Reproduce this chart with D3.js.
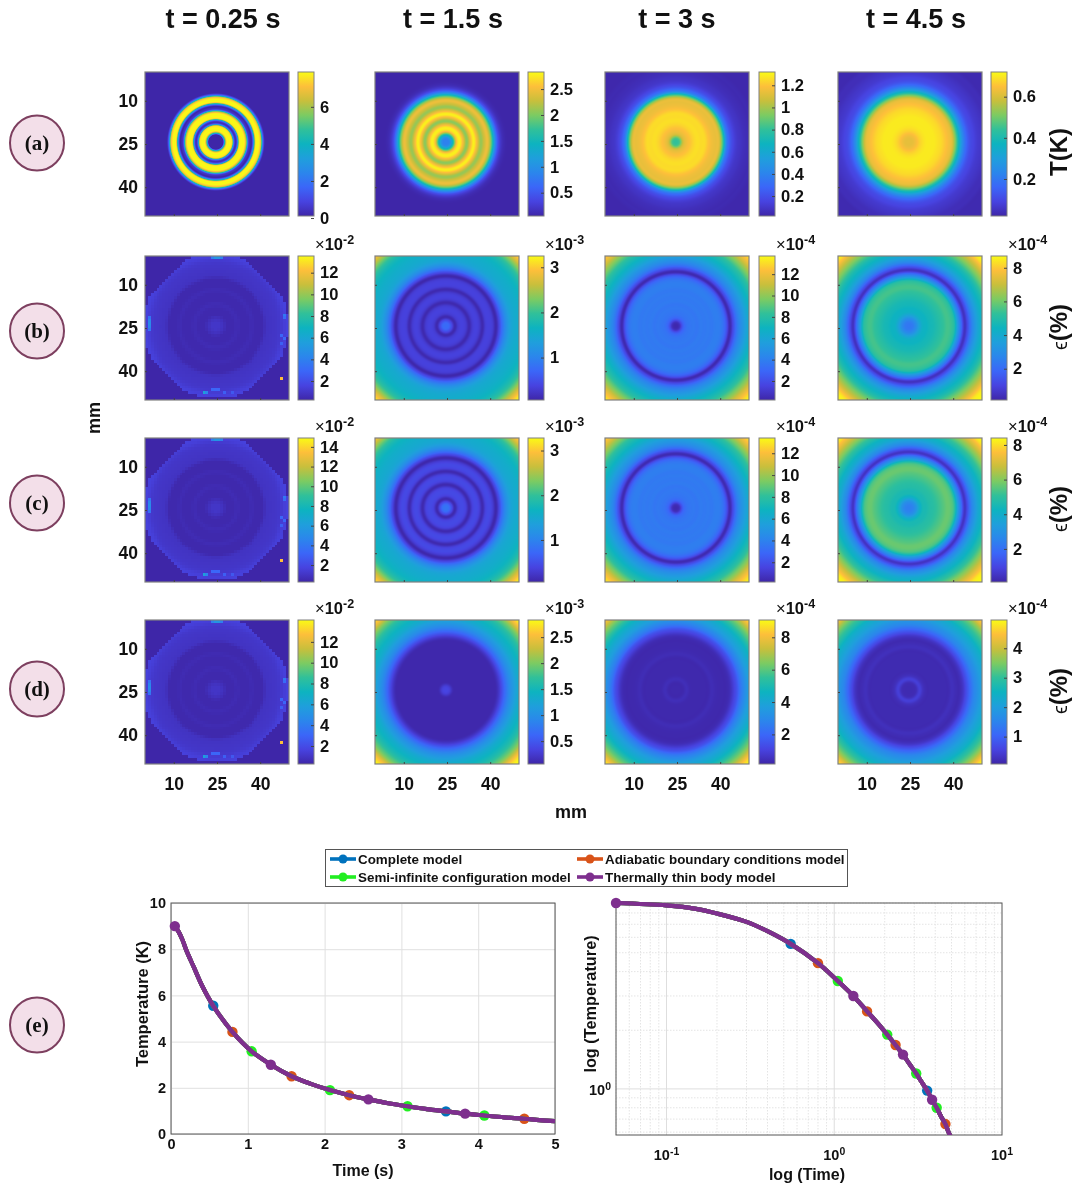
<!DOCTYPE html>
<html><head><meta charset="utf-8">
<script src="https://cdn.jsdelivr.net/npm/d3@7"></script>
<style>
html,body{margin:0;padding:0;background:#fff;}
#wrap{position:relative;width:1074px;height:1187px;overflow:hidden;}
canvas,svg{position:absolute;left:0;top:0;}
text{font-family:"Liberation Sans",Arial,sans-serif;font-weight:700;fill:#111;}
</style></head><body>
<div id="wrap"><canvas id="cv" width="1074" height="1187"></canvas><svg id="sv" width="1074" height="1187"></svg></div>
<script>
// ---------- data ----------
const columnTitles = ["t = 0.25 s","t = 1.5 s","t = 3 s","t = 4.5 s"];
const rowLetters = ["(a)","(b)","(c)","(d)"];
const axisTicks = [10,25,40];
const parulaStops = ["#3e26a8","#4743e0","#3b66f8","#2b86ec","#1f9fdc","#0db3c0","#30c09a","#7ccb62","#c8bf3c","#fdbf3a","#f9fb15"];

// radial sample positions (mm from the centre)
const radiiFine = [0,.625,1.25,1.875,2.5,3.125,3.75,4.375,5,5.625,6.25,6.875,7.5,8.125,8.75,9.375,10,10.625,11.25,11.875,12.5,13.125,13.75,14.375,15,15.625,16.25,16.875,17.5,18.125,40];
const radiiWide = [0,1.25,2.5,3.75,5,6.25,7.5,8.75,10,11.25,12.5,13.75,15,16.25,17.5,18.75,20,21.25,22.5,23.75,25,26.25,27.5,28.75,30,31.25,32.5,33.75,35,36.25];
const radiiTight = [0,1.21,2.42,3.63,4.84,6.05,7.26,8.47,9.68,10.89,12.1,13.31,14.52,15.73,16.94,18.15,19.36,20.57,21.78,22.99,24.2,25.41,26.62,27.83,29.04,30.25,31.46,32.67,33.88,36.3];
const radiiRings = [0,1,2,3.1,4.3,5.6,6.9,8.1,9.3,10.4,11.5,12.7,13.8,15,16.2,17.4,18.5,19.6,21,22.5,24,25.5,27,28.5,30,31.5,33,34,35,36.5];
// radial profile samples per panel, in colour-bar units
const profA1=[.05,.05,.05,.05,.08,4.5,7.6,7.8,7.8,7,1.8,.35,2,7.2,7.8,7.8,7.6,5.5,1.2,.35,.35,3,7.4,7.8,7.7,6.5,2.2,.3,.05,.05,.05];
const profA2=[.85,.9,1.5,2.5,2.78,2.45,2.05,2.45,2.78,2.45,2.1,2.3,2.45,1.95,1.05,.42,.16,.07,.05,.05,.05,.05,.05,.05,.05,.05,.05,.05,.05,.05];
const profA3=[.8,.84,1.08,1.16,1.2,1.24,1.26,1.25,1.25,1.2,1.16,1.14,1.12,.85,.42,.24,.15,.1,.08,.06,.05,.04,.04,.03,.03,.03,.03,.03,.03,.03];
const profA4=[.62,.62,.64,.67,.69,.7,.7,.7,.69,.68,.66,.64,.61,.5,.36,.24,.16,.11,.09,.07,.06,.05,.04,.04,.03,.03,.03,.03,.03,.03];
const profB1=[1,1,.75,.4,.4,.4,.55,.4,.4,.4,.55,.4,.4,.4,.85,.9,.95,1,1.1,1.35,1.5,1.5,.25,.25,.25,.25,.25,.25,.25,.25];
const profC1=[1.1,1.1,.8,.42,.42,.42,.6,.42,.42,.42,.6,.42,.42,.42,.95,1,1.05,1.1,1.2,1.5,1.65,1.65,.28,.28,.28,.28,.28,.28,.28,.28];
const profD1=[1,1,.75,.4,.4,.4,.55,.4,.4,.4,.55,.4,.4,.4,.9,.95,1,1.05,1.15,1.4,1.55,1.55,.27,.27,.27,.27,.27,.27,.27,.27];
const profB2=[.75,.72,.45,.1,.3,.36,.3,.1,.3,.36,.3,.1,.32,.36,.3,.08,.4,.8,1.15,1.4,1.5,1.55,1.62,1.72,1.9,2.2,2.6,2.85,3.1,3.25];
const profC2=[.85,.8,.5,.1,.36,.44,.36,.1,.36,.44,.36,.1,.36,.44,.32,.08,.4,.8,1.15,1.4,1.5,1.55,1.62,1.72,1.9,2.2,2.6,2.85,3.1,3.28];
const profB3=[.3,.7,2.6,3.4,3.6,3.7,3.6,3.8,3.7,3.8,3.7,3.9,3.9,3.5,2.4,.4,2,3.6,4.6,5.4,6.2,6.9,7.5,8.2,9.2,10.2,11.3,12.3,13.2,13.7];
const profC3=[.3,.7,2.6,3.3,3.5,3.6,3.5,3.7,3.6,3.7,3.6,3.8,3.8,3.4,2.3,.4,2,3.6,4.6,5.3,6,6.7,7.3,8,9,10,11.1,12.1,12.9,13.4];
const profB4=[2.3,2.4,2.9,3.7,4.3,4.4,4.6,4.7,4.9,5.1,5.3,5.5,5.4,5,3.4,2,.5,1.4,2.5,3.3,3.9,4.4,4.8,5.4,6,6.6,7.2,7.9,8.5,8.7];
const profC4=[2.4,2.5,3.0,3.9,4.5,4.6,4.8,4.9,5.1,5.3,5.5,5.7,5.6,5.1,3.4,2,.5,1.4,2.5,3.2,3.8,4.2,4.7,5.2,5.8,6.4,7,7.6,8.2,8.4];
const profD2=[.36,.3,.1,.08,.08,.08,.08,.08,.08,.08,.08,.08,.08,.08,.1,.28,.55,.8,1.0,1.15,1.3,1.4,1.5,1.62,1.8,2,2.3,2.6,2.8,2.83];
const profD3=[.25,.25,.25,.42,.28,.25,.25,.25,.25,.25,.38,.3,.26,.25,.25,.4,.9,1.5,2.4,3,3.6,4,4.4,4.9,5.6,6.2,7,7.9,8.7,9];
const profD4=[.15,.15,.2,.48,.25,.15,.15,.15,.15,.15,.15,.15,.24,.18,.15,.32,.7,1.1,1.5,1.75,2,2.2,2.4,2.7,3,3.3,3.7,4.2,4.7,4.95];
// bright stray cells of the first-column fields: [x mm, y mm, fraction of colour range]
const strayCells=[[47,42,.9],[23,0,.28],[24,0,.36],[25,0,.36],[26,0,.28],[1,21,.24],[1,22,.3],[1,23,.32],[1,24,.3],[1,25,.24],[48,20,.26],[48,21,.22],[47,27,.2],[48,28,.2],[47,30,.18],[20,47,.42],[21,47,.3],[23,46,.2],[24,46,.2],[25,46,.2],[27,47,.18],[30,47,.16]];

const fieldProfiles=[[profA1,profA2,profA3,profA4],[profB1,profB2,profB3,profB4],[profC1,profC2,profC3,profC4],[profD1,profD2,profD3,profD4]];
const fieldRadii=[[radiiFine,radiiTight,radiiWide,radiiWide],[radiiWide,radiiRings,radiiWide,radiiTight],[radiiWide,radiiRings,radiiWide,radiiTight],[radiiWide,radiiWide,radiiWide,radiiWide]];
const fieldDomains=[
 [[.11,7.88],[.05,2.83],[.02,1.32],[.02,.72]],
 [[.25,13.54],[.06,3.25],[.22,13.7],[.14,8.7]],
 [[.28,14.9],[.06,3.28],[.19,13.4],[.09,8.4]],
 [[.27,14.1],[.06,2.83],[.17,9.07],[.07,4.96]]];
const colorbarTicks=[
 [[0,2,4,6],[.5,1,1.5,2,2.5],[.2,.4,.6,.8,1,1.2],[.2,.4,.6]],
 [[2,4,6,8,10,12],[1,2,3],[2,4,6,8,10,12],[2,4,6,8]],
 [[2,4,6,8,10,12,14],[1,2,3],[2,4,6,8,10,12],[2,4,6,8]],
 [[2,4,6,8,10,12],[.5,1,1.5,2,2.5],[2,4,6,8],[1,2,3,4]]];
const colorbarExponents=[[null,null,null,null],[-2,-3,-4,-4],[-2,-3,-4,-4],[-2,-3,-4,-4]];

// cooling curves (the four models coincide)
const timeS=[.05,.1,.15,.2,.3,.4,.55,.8,1.05,1.3,1.57,1.82,2.07,2.32,2.57,2.83,3.08,3.33,3.58,3.83,4.08,4.34,4.6,4.8,5];
const temperatureK=[9.0,8.75,8.4,7.95,7.2,6.45,5.55,4.42,3.58,3.0,2.5,2.17,1.9,1.68,1.5,1.33,1.2,1.08,.98,.88,.8,.72,.66,.6,.56];
const modelNames=["Complete model","Adiabatic boundary conditions model","Semi-infinite configuration model","Thermally thin body model"];
const modelColors=["#0072bd","#d95319","#22ee22","#7e2f8e"];
const modelMarkerTimes=[[.55,3.58],[.8,1.57,2.32,4.6],[1.05,2.07,3.08,4.08],[.05,1.3,2.57,3.83]];
const linTicksX=[0,1,2,3,4,5], linTicksY=[0,2,4,6,8,10];
const logGridY=[.6,.7,.8,.9,1,2,3,4,5,6,7,8,9];

// ---------- layout ----------
const colX=[145,375,605,838], colBar=[298,528,759,991], rowY=[72,256,438,620];
const panelW=144, panelH=144, barW=16;
const centre=[24.6,24.3];

const svg=d3.select("#sv");
const ctx=document.getElementById("cv").getContext("2d");
const parula=d3.piecewise(d3.interpolateRgb,parulaStops);
const grey="#808080";

function profileAt(p,toIndex,r){
  const k=toIndex(r), i=Math.floor(k), t=k-i;
  if(i>=p.length-1) return p[p.length-1];
  const a=p[Math.max(i-1,0)],b=p[i],c=p[i+1],d=p[Math.min(i+2,p.length-1)];
  return .5*(2*b+(c-a)*t+(2*a-5*b+4*c-d)*t*t+(3*b-a-3*c+d)*t*t*t);
}
function sup(sel,base,exp,fs){
  sel.append("tspan").text(base);
  sel.append("tspan").attr("dy",-fs*.36).attr("font-size",fs*.72).text(exp);
}

rowY.forEach((y0,ri)=>{
  colX.forEach((x0,ci)=>{
    const x=d3.scaleLinear().domain([0,50]).range([x0,x0+panelW]);
    const y=d3.scaleLinear().domain([0,50]).range([y0,y0+panelH]);
    const dom=fieldDomains[ri][ci];
    const col=d3.scaleSequential(parula).domain(dom).clamp(true);
    const prof=fieldProfiles[ri][ci], radii=fieldRadii[ri][ci];
    if(ri>0&&ci===0){
      // coarse 1 mm cells
      const val=d3.scaleLinear().domain(radii).range(prof).clamp(true);
      const cell=(i,j,c)=>{
        const xa=Math.round(x(i)),xb=Math.round(x(i+1)),ya=Math.round(y(j)),yb=Math.round(y(j+1));
        ctx.fillStyle=c;ctx.fillRect(xa,ya,xb-xa,yb-ya);
      };
      d3.range(0,50).forEach(i=>d3.range(0,50).forEach(j=>{
        const dx=i+.5-centre[0],dy=j+.5-centre[1],r=Math.hypot(dx,dy);
        const inside=r<=25.2&&Math.abs(dx)+Math.abs(dy)<=33.5;
        cell(i,j,col(inside?val(r):dom[0]));
      }));
      strayCells.forEach(c=>cell(c[0],c[1],col(dom[0]+c[2]*(dom[1]-dom[0]))));
    } else {
      const toIndex=d3.scaleLinear().domain(radii).range(d3.range(radii.length)).clamp(true);
      for(let px=x0;px<x0+panelW;px++)for(let py=y0;py<y0+panelH;py++){
        const r=Math.hypot(x.invert(px+.5)-centre[0],y.invert(py+.5)-centre[1]);
        ctx.fillStyle=col(profileAt(prof,toIndex,r));
        ctx.fillRect(px,py,1,1);
      }
    }
    const g=svg.append("g");
    g.append("rect").attr("x",x0).attr("y",y0).attr("width",panelW).attr("height",panelH)
      .attr("fill","none").attr("stroke",grey).attr("stroke-width",1.2);
    // panel axes
    const ax=g.append("g").attr("transform",`translate(0,${y0+panelH})`)
      .call(d3.axisBottom(x).tickValues(axisTicks).tickSizeInner(-2).tickSizeOuter(0).tickPadding(14).tickFormat(ri===3?d3.format("d"):""));
    const ay=g.append("g").attr("transform",`translate(${x0},0)`)
      .call(d3.axisLeft(y).tickValues(axisTicks).tickSizeInner(-2).tickSizeOuter(0).tickPadding(7).tickFormat(ci===0?d3.format("d"):""));
    [ax,ay].forEach(a=>{a.select(".domain").remove();a.selectAll("line").attr("stroke","#444");
      a.selectAll("text").attr("font-size",17.5);});
    // colorbar
    const bx=colBar[ci];
    const gid=`g${ri}${ci}`;
    const lg=svg.append("defs").append("linearGradient").attr("id",gid).attr("x1",0).attr("x2",0).attr("y1",1).attr("y2",0);
    d3.range(0,1.0001,.05).forEach(f=>lg.append("stop").attr("offset",f).attr("stop-color",parula(f)));
    g.append("rect").attr("x",bx).attr("y",y0).attr("width",barW).attr("height",panelH)
      .attr("fill",`url(#${gid})`).attr("stroke",grey).attr("stroke-width",1);
    const by=d3.scaleLinear().domain(dom).range([y0+panelH,y0]);
    const ab=g.append("g").attr("transform",`translate(${bx+barW},0)`)
      .call(d3.axisRight(by).tickValues(colorbarTicks[ri][ci]).tickSizeInner(-3).tickSizeOuter(0).tickPadding(6).tickFormat(d=>String(d)));
    ab.select(".domain").remove();
    ab.selectAll("line").attr("stroke","#444");
    ab.selectAll("text").attr("font-size",16.5);
    const ex=colorbarExponents[ri][ci];
    if(ex!==null){
      const t=g.append("text").attr("x",bx+17).attr("y",y0-6).attr("font-size",16.5);
      t.append("tspan").attr("font-weight",400).text("\u00D7");
      t.append("tspan").text("10");
      t.append("tspan").attr("dy",-6).attr("font-size",12.5).text(String(ex));
    }
  });
});
// column titles
const titleX=[223,453,677,916];
columnTitles.forEach((t,i)=>svg.append("text").attr("x",titleX[i]).attr("y",28).attr("text-anchor","middle").attr("font-size",27).text(t));
// axis captions
svg.append("text").attr("transform","translate(100,418) rotate(-90)").attr("text-anchor","middle").attr("font-size",18).text("mm");
svg.append("text").attr("x",571).attr("y",818).attr("text-anchor","middle").attr("font-size",18).text("mm");
svg.append("text").attr("transform","translate(1067,152) rotate(-90)").attr("text-anchor","middle").attr("font-size",24).text("T(K)");
[327,509,691].forEach(cy=>{
  const t=svg.append("text").attr("transform",`translate(1067,${cy}) rotate(-90)`).attr("text-anchor","middle").attr("font-size",24);
  t.append("tspan").attr("font-weight",400).attr("font-size",20).text("\u03F5");
  t.append("tspan").text("(%)");
});
// row badges
const badgeY=[143,331,503,689,1025], badgeText=[...rowLetters,"(e)"];
badgeText.forEach((b,i)=>{
  svg.append("ellipse").attr("cx",37).attr("cy",badgeY[i]).attr("rx",27).attr("ry",27.5).attr("fill","#f3dfe9").attr("stroke","#7d3f5f").attr("stroke-width",2);
  svg.append("text").attr("x",37).attr("y",badgeY[i]+7).attr("text-anchor","middle").attr("font-size",21).style("font-family",'"Liberation Serif",serif').text(b);
});
// legend
const lg=svg.append("g");
lg.append("rect").attr("x",325.5).attr("y",849.5).attr("width",522).attr("height",37).attr("fill","#fff").attr("stroke","#555").attr("stroke-width",1);
const legendPos=[[330,859],[577,859],[330,877],[577,877]];
modelNames.forEach((n,i)=>{
  const [lx,ly]=legendPos[i];
  lg.append("line").attr("x1",lx).attr("x2",lx+26).attr("y1",ly).attr("y2",ly).attr("stroke",modelColors[i]).attr("stroke-width",3.6);
  lg.append("circle").attr("cx",lx+13).attr("cy",ly).attr("r",4.5).attr("fill",modelColors[i]);
  lg.append("text").attr("x",lx+28).attr("y",ly+4.5).attr("font-size",13.4).text(n);
});
// line charts
const idx=t=>timeS.indexOf(t);
function drawChart(x,y,box,clipId){
  svg.append("clipPath").attr("id",clipId).append("rect").attr("x",box[0]).attr("y",box[1]-6).attr("width",box[2]-box[0]).attr("height",box[3]-box[1]+6);
  const line=d3.line().x((d,i)=>x(timeS[i])).y(d=>y(d)).curve(d3.curveCatmullRom);
  const g=svg.append("g");
  modelColors.forEach((c,m)=>{
    g.append("path").attr("d",line(temperatureK)).attr("fill","none").attr("stroke",c).attr("stroke-width",4.2).attr("clip-path",`url(#${clipId})`);
    g.selectAll(null).data(modelMarkerTimes[m]).enter().append("circle")
      .attr("cx",t=>x(t)).attr("cy",t=>y(temperatureK[idx(t)])).attr("r",5.2).attr("fill",c);
  });
  g.append("path").attr("d",line(temperatureK)).attr("fill","none").attr("stroke",modelColors[3]).attr("stroke-width",4.2).attr("clip-path",`url(#${clipId})`);
}
// linear
{
  const box=[171,903,555,1134];
  const x=d3.scaleLinear().domain([0,5]).range([box[0],box[2]]);
  const y=d3.scaleLinear().domain([0,10]).range([box[3],box[1]]);
  const ga=svg.append("g");
  const gx=ga.append("g").attr("transform",`translate(0,${box[3]})`).call(d3.axisBottom(x).tickValues(linTicksX).tickFormat(d3.format("d")).tickSize(-(box[3]-box[1])).tickPadding(5));
  const gy=ga.append("g").attr("transform",`translate(${box[0]},0)`).call(d3.axisLeft(y).tickValues(linTicksY).tickFormat(d3.format("d")).tickSize(-(box[2]-box[0])).tickPadding(5));
  [gx,gy].forEach(a=>{a.select(".domain").remove();a.selectAll("line").attr("stroke","#e0e0e0").attr("stroke-width",1);a.selectAll("text").attr("font-size",14.5);});
  ga.append("rect").attr("x",box[0]).attr("y",box[1]).attr("width",box[2]-box[0]).attr("height",box[3]-box[1]).attr("fill","none").attr("stroke","#555").attr("stroke-width",1);
  drawChart(x,y,box,"clipA");
  svg.append("text").attr("x",363).attr("y",1176).attr("text-anchor","middle").attr("font-size",16).text("Time (s)");
  svg.append("text").attr("transform","translate(148,1004) rotate(-90)").attr("text-anchor","middle").attr("font-size",16.5).text("Temperature (K)");
}
// log
{
  const box=[616,903,1002,1135];
  const x=d3.scaleLog().domain([.05,10]).range([box[0],box[2]]);
  const y=d3.scaleLog().domain([.58,9]).range([box[3],box[1]]);
  const ga=svg.append("g");
  const minorX=[];[.01,.1,1].forEach(d=>d3.range(1,10).forEach(k=>{const v=d*k;if(v>=.05&&v<=10)minorX.push(v);}));
  minorX.forEach(v=>{
    const major=[.1,1,10].some(m=>Math.abs(m-v)<1e-9);
    ga.append("line").attr("x1",x(v)).attr("x2",x(v)).attr("y1",box[1]).attr("y2",box[3]).attr("stroke",major?"#dedede":"#e4e4e4").attr("stroke-dasharray",major?null:"1.5,1.5");
  });
  logGridY.forEach(v=>{
    ga.append("line").attr("x1",box[0]).attr("x2",box[2]).attr("y1",y(v)).attr("y2",y(v)).attr("stroke",v===1?"#dedede":"#e4e4e4").attr("stroke-dasharray",v===1?null:"1.5,1.5");
  });
  ga.append("rect").attr("x",box[0]).attr("y",box[1]).attr("width",box[2]-box[0]).attr("height",box[3]-box[1]).attr("fill","none").attr("stroke","#555").attr("stroke-width",1);
  drawChart(x,y,box,"clipB");
  [[.1,"-1"],[1,"0"],[10,"1"]].forEach(([v,e])=>{
    const t=svg.append("text").attr("x",x(v)).attr("y",1160).attr("text-anchor","middle").attr("font-size",14.5);
    sup(t,"10",e,14.5);
  });
  const t=svg.append("text").attr("x",box[0]-5).attr("y",y(1)+6).attr("text-anchor","end").attr("font-size",14.5);
  sup(t,"10","0",14.5);
  svg.append("text").attr("x",807).attr("y",1180).attr("text-anchor","middle").attr("font-size",16).text("log (Time)");
  svg.append("text").attr("transform","translate(596,1004) rotate(-90)").attr("text-anchor","middle").attr("font-size",16.3).text("log (Temperature)");
}
</script></body></html>
